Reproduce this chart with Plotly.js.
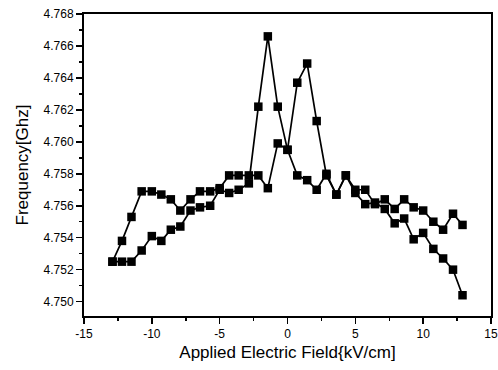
<!DOCTYPE html>
<html>
<head>
<meta charset="utf-8">
<script src="https://cdn.plot.ly/plotly-3.0.1.min.js"></script>
<style>html,body{margin:0;padding:0;background:#fff;}#chart{width:498px;height:370px;}</style>
</head>
<body>
<div id="chart"></div>
<script>
var fieldX = [-12.9, -12.2, -11.5, -10.75, -10.0, -9.3, -8.6, -7.9, -7.15, -6.45, -5.7, -5.0, -4.3, -3.6, -2.85, -2.15, -1.45, -0.72, 0, 0.72, 1.45, 2.15, 2.87, 3.6, 4.3, 5.0, 5.73, 6.45, 7.17, 7.9, 8.6, 9.3, 10.0, 10.75, 11.47, 12.2, 12.9];

var freqA = [4.7525, 4.7525, 4.7525, 4.7532, 4.7541, 4.7538, 4.7545, 4.7547, 4.7557, 4.7559, 4.7560, 4.7570, 4.7568, 4.7570, 4.7574, 4.7622, 4.7666, 4.7622, 4.7595, 4.7579, 4.7576, 4.7570, 4.7580, 4.7567, 4.7579, 4.7570, 4.7570, 4.7561, 4.7564, 4.7558, 4.7564, 4.7559, 4.7557, 4.7550, 4.7545, 4.7555, 4.7548];

var freqB = [4.7525, 4.7538, 4.7553, 4.7569, 4.7569, 4.7567, 4.7564, 4.7557, 4.7564, 4.7569, 4.7569, 4.7571, 4.7579, 4.7579, 4.7579, 4.7579, 4.7571, 4.7599, 4.7595, 4.7637, 4.7649, 4.7613, 4.7579, 4.7567, 4.7579, 4.7568, 4.7561, 4.7562, 4.7558, 4.7549, 4.7552, 4.7539, 4.7543, 4.7533, 4.7527, 4.7520, 4.7504];

var xTickVals = [-15, -10, -5, 0, 5, 10, 15];
var xTickText = ["-15", "-10", "-5", "0", "5", "10", "15"];

var fontFam = "Liberation Sans, Arial, sans-serif";

function series(y) {
  return {
    x: fieldX, y: y, type: "scatter", mode: "lines+markers",
    line: {color: "#000", width: 1.7},
    marker: {symbol: "square", size: 8.5, color: "#000"},
    hoverinfo: "skip", showlegend: false
  };
}

var layout = {
  width: 498, height: 370,
  margin: {l: 84, r: 7, t: 14, b: 54},
  paper_bgcolor: "#fff", plot_bgcolor: "#fff",
  font: {family: fontFam, color: "#000", size: 12},
  xaxis: {
    range: [-15, 15],
    tickmode: "array", tickvals: xTickVals, ticktext: xTickText,
    ticks: "outside", ticklen: 6, tickwidth: 1.5, tickcolor: "#000",
    minor: {ticks: "outside", dtick: 2.5, tick0: 0, ticklen: 3, tickwidth: 1.5, tickcolor: "#000"},
    showline: true, linewidth: 2, linecolor: "#000", mirror: true,
    showgrid: false, zeroline: false,
    tickfont: {size: 12, color: "#000"},
    title: {text: "Applied Electric Field{kV/cm]", font: {size: 17, color: "#000"}, standoff: 6}
  },
  yaxis: {
    range: [4.7491, 4.768],
    tick0: 4.750, dtick: 0.002, tickformat: ".3f",
    ticks: "outside", ticklen: 6, tickwidth: 1.5, tickcolor: "#000",
    minor: {ticks: "outside", dtick: 0.001, ticklen: 3, tickwidth: 1.5, tickcolor: "#000"},
    showline: true, linewidth: 2, linecolor: "#000", mirror: true,
    showgrid: false, zeroline: false,
    tickfont: {size: 12, color: "#000"},
    title: {text: "Frequency[Ghz]", font: {size: 17, color: "#000"}, standoff: 11}
  }
};

Plotly.newPlot("chart", [series(freqA), series(freqB)], layout, {staticPlot: true, displayModeBar: false});
</script>
</body>
</html>
